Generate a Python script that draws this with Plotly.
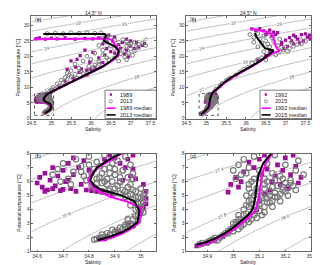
import numpy as np
import plotly.graph_objects as go

# ---------------- data ----------------
section_titles = ["14.5° N", "24.5° N"]
panel_labels = ["(a)", "(b)", "(c)", "(d)"]
legend_a = ["1989", "2013", "1989 median", "2013 median"]
legend_b = ["1992", "2015", "1992 median", "2015 median"]

xr_top = [34.5, 37.65]
yr_top = [0, 33]
xr_c = [34.578, 35.06]
xr_d = [34.82, 35.3]
yr_bot = [1, 8]
xt_top = [34.5, 35, 35.5, 36, 36.5, 37, 37.5]
xt_top_txt = ["34.5", "35", "35.5", "36", "36.5", "37", "37.5"]
xt_c = [34.6, 34.7, 34.8, 34.9, 35.0]
xt_c_txt = ["34.6", "34.7", "34.8", "34.9", "35"]
xt_d = [34.9, 35.0, 35.1, 35.2, 35.3]
xt_d_txt = ["34.9", "35", "35.1", "35.2", "35.3"]
yt_top = [0, 5, 10, 15, 20, 25, 30]
yt_bot = [1, 2, 3, 4, 5, 6, 7, 8]

# 14.5 N medians (salinity, potential temperature)
med_1989 = [(34.55, 25.5), (35.0, 25.55), (35.5, 25.6), (36.0, 25.65), (36.4, 25.7), (36.52, 25.3),
            (36.58, 24.3), (36.66, 22.9), (36.72, 21.5), (36.68, 20.0), (36.52, 18.4), (36.32, 16.8),
            (36.07, 15.2), (35.82, 13.6), (35.57, 12.0), (35.32, 10.6), (35.12, 9.3), (34.97, 8.2),
            (34.925, 8.0), (34.88, 7.5), (34.835, 7.0), (34.81, 6.6), (34.796, 6.14), (34.81, 5.7),
            (34.84, 5.3), (34.881, 4.91), (34.95, 4.55), (35.0, 4.1), (35.0, 3.5), (34.99, 3.0),
            (34.96, 2.6), (34.93, 2.3), (34.89, 2.0), (34.84, 1.75)]
med_2013 = [(34.8, 27.2), (35.2, 27.25), (35.6, 27.2), (36.0, 27.25), (36.35, 27.2), (36.38, 26.6),
            (36.32, 25.0), (36.46, 24.1), (36.6, 23.2), (36.7, 21.8), (36.66, 20.2), (36.5, 18.5),
            (36.3, 16.8), (36.05, 15.2), (35.8, 13.6), (35.55, 12.0), (35.3, 10.6), (35.1, 9.3),
            (34.95, 8.2), (34.919, 8.0), (34.87, 7.5), (34.83, 7.0), (34.813, 6.5), (34.805, 6.1),
            (34.82, 5.7), (34.85, 5.4), (34.92, 5.05), (34.975, 4.6), (34.995, 3.9), (34.987, 3.1),
            (34.96, 2.7), (34.93, 2.4), (34.88, 2.05), (34.834, 1.8)]

# 14.5 N observations
pts_1989_up = [(34.62, 25.7), (34.7, 25.9), (34.85, 25.5), (35.0, 25.8), (35.15, 25.6), (35.35, 25.9),
               (35.6, 25.5), (35.85, 25.8), (36.05, 25.6), (36.2, 25.9), (36.3, 24.0), (36.4, 22.5),
               (36.5, 21.5), (36.35, 20.5), (36.55, 25.0), (36.7, 23.8), (36.8, 24.5), (36.9, 25.5),
               (37.0, 25.0), (37.15, 24.5), (37.3, 23.5), (37.0, 23.3), (36.9, 22.0), (36.85, 20.8),
               (36.95, 19.8), (37.1, 22.5), (36.6, 26.2), (36.45, 26.8), (37.35, 24.2), (37.2, 23.0),
               (36.75, 22.6), (36.6, 21.0), (35.85, 22.0), (35.73, 20.2), (35.97, 18.1), (35.76, 16.0),
               (35.61, 16.5), (35.89, 15.4), (36.1, 16.5), (35.5, 18.5), (36.2, 19.5), (35.4, 15.8),
               (36.05, 21.3), (35.65, 19.0), (35.2, 10.0), (35.35, 12.0), (35.55, 13.0), (35.05, 9.0),
               (35.7, 14.8), (36.0, 15.8), (36.3, 18.0), (35.9, 14.0)]
pts_1989_deep = [(34.6, 5.9), (34.61, 6.3), (34.62, 5.6), (34.63, 6.6), (34.64, 5.4), (34.65, 6.1),
                 (34.66, 7.0), (34.67, 5.7), (34.68, 6.4), (34.69, 5.35), (34.7, 6.8), (34.71, 6.0),
                 (34.72, 7.3), (34.73, 5.5), (34.74, 6.5), (34.75, 5.3), (34.76, 7.0), (34.77, 5.8),
                 (34.78, 7.5), (34.79, 5.4), (34.8, 6.8), (34.81, 5.35), (34.83, 5.3), (34.85, 5.25),
                 (34.87, 5.2), (34.89, 5.1), (34.7, 5.45), (34.66, 5.5), (34.72, 6.1), (34.74, 7.7),
                 (34.63, 5.3), (34.86, 7.6), (34.88, 7.9), (34.9, 7.7), (34.92, 7.3), (34.94, 7.0),
                 (34.95, 7.6), (34.97, 6.9), (34.96, 6.4), (34.93, 6.1), (34.98, 6.2), (34.97, 7.9),
                 (35.01, 5.8), (35.02, 5.3), (35.02, 4.8), (35.02, 4.4), (35.01, 4.1), (35.0, 3.7),
                 (34.95, 2.9), (34.91, 2.4), (34.87, 2.1), (34.84, 1.95), (34.86, 1.9)]
pts_2013_up = [(34.9, 27.3), (35.1, 27.5), (35.3, 27.3), (35.5, 27.6), (35.7, 27.4), (35.9, 27.6),
               (36.1, 27.4), (36.25, 27.6), (36.4, 26.5), (36.3, 26.0), (36.4, 25.5), (36.5, 26.0),
               (36.6, 25.2), (36.7, 24.5), (36.8, 25.4), (36.9, 24.8), (37.0, 24.0), (37.1, 24.6),
               (37.2, 23.8), (37.3, 24.2), (37.38, 23.5), (36.9, 23.3), (37.0, 22.5), (37.1, 21.8),
               (36.95, 21.0), (37.05, 20.3), (36.85, 19.8), (36.75, 20.8), (36.6, 22.5), (36.5, 23.3),
               (36.4, 24.5), (36.8, 22.2), (37.2, 22.8), (36.9, 18.9), (36.7, 18.5), (36.6, 19.5),
               (36.95, 23.8), (37.15, 23.2), (35.6, 17.5), (35.8, 18.5), (35.9, 20.0), (36.0, 19.0),
               (36.1, 21.0), (36.2, 18.2), (36.3, 20.5), (36.4, 19.5), (36.3, 22.0), (36.2, 23.5),
               (35.95, 16.8), (36.1, 17.2), (35.7, 16.2), (35.5, 15.4), (35.75, 15.0), (35.4, 14.5),
               (35.0, 8.8), (35.1, 9.5), (35.05, 10.0), (35.2, 10.5), (35.15, 11.2), (35.3, 11.5),
               (35.25, 12.3), (35.4, 12.5), (35.35, 13.2), (35.5, 13.5), (35.6, 14.2), (35.45, 14.0),
               (35.0, 9.2), (34.95, 8.5), (35.65, 13.0), (35.8, 14.5), (35.9, 15.6), (36.05, 16.2),
               (36.2, 17.5), (36.45, 18.8)]
pts_2013_deep = [(34.66, 6.5), (34.68, 6.9), (34.7, 7.3), (34.72, 6.2), (34.74, 6.7), (34.75, 7.6),
                 (34.77, 7.1), (34.78, 6.4), (34.8, 7.8), (34.82, 6.9), (34.83, 7.4), (34.85, 6.6),
                 (34.86, 7.9), (34.87, 6.2), (34.88, 7.0), (34.9, 6.5), (34.91, 7.5), (34.93, 6.8),
                 (34.94, 7.8), (34.95, 6.3), (34.96, 7.2), (34.69, 6.0), (34.73, 5.8), (34.85, 5.9),
                 (34.92, 6.0), (34.97, 6.6), (34.82, 5.6), (34.85, 5.3), (34.87, 5.8), (34.88, 5.5),
                 (34.9, 5.2), (34.91, 5.7), (34.93, 5.4), (34.94, 4.9), (34.95, 5.6), (34.96, 5.1),
                 (34.97, 4.7), (34.98, 5.3), (34.99, 4.9), (35.0, 5.5), (35.0, 4.5), (35.01, 5.0),
                 (34.92, 5.95), (34.89, 6.0), (34.96, 4.3), (34.98, 4.0), (34.99, 3.6), (35.0, 4.2),
                 (35.01, 3.8), (34.97, 3.3), (34.95, 3.0), (34.99, 3.2), (35.01, 4.6), (34.92, 2.7),
                 (34.9, 2.4), (34.88, 2.2), (34.86, 2.05), (34.85, 2.2), (34.89, 2.55), (34.93, 2.6),
                 (34.94, 2.9), (34.83, 1.9), (34.82, 1.85), (34.84, 1.95),
                 (34.8, 7.2), (34.81, 6.6), (34.84, 7.1), (34.86, 6.9), (34.88, 6.6), (34.89, 7.3),
                 (34.9, 6.9), (34.92, 6.3), (34.84, 6.3), (34.86, 6.0), (34.83, 5.85), (34.9, 5.5),
                 (34.92, 5.15), (34.94, 5.3), (34.95, 5.0), (34.97, 5.4), (34.98, 4.85), (34.99, 4.4),
                 (35.0, 4.8), (35.0, 3.9), (34.98, 3.5), (34.96, 3.0), (34.94, 2.75), (34.91, 2.5),
                 (34.87, 2.3), (34.9, 2.25), (34.85, 2.0), (34.97, 2.85), (34.95, 3.3), (34.99, 4.1),
                 (35.015, 5.2), (34.81, 5.75), (34.875, 5.35), (34.96, 5.8), (34.97, 6.2), (34.77, 6.7),
                 (34.79, 6.1), (34.83, 6.2)]

# 24.5 N medians
med_1992 = [(36.1, 28.9), (36.3, 28.4), (36.5, 28.0), (36.65, 27.2), (36.7, 26.0), (36.72, 24.5),
            (36.75, 23.2), (36.8, 22.3), (36.85, 21.6), (36.7, 21.2), (36.55, 20.0), (36.4, 18.6),
            (36.2, 17.1), (35.95, 15.3), (35.7, 13.5), (35.48, 11.6), (35.32, 10.0), (35.21, 8.8),
            (35.15, 8.0), (35.125, 7.3), (35.11, 6.5), (35.103, 5.6), (35.097, 4.7), (35.088, 4.1),
            (35.075, 3.7), (35.05, 3.3), (35.012, 2.72), (34.975, 2.25), (34.94, 1.9), (34.905, 1.6),
            (34.875, 1.45), (34.86, 1.38)]
med_2015 = [(36.22, 27.5), (36.27, 26.2), (36.35, 24.8), (36.42, 23.5), (36.48, 22.6), (36.6, 22.2),
            (36.7, 21.9), (36.62, 21.0), (36.5, 19.8), (36.35, 18.4), (36.15, 16.9), (35.9, 15.2),
            (35.65, 13.4), (35.45, 11.6), (35.3, 10.0), (35.2, 8.8), (35.145, 8.0), (35.115, 7.31),
            (35.097, 6.51), (35.089, 5.6), (35.083, 4.68), (35.074, 4.0), (35.059, 3.65),
            (35.038, 3.31), (35.002, 2.74), (34.966, 2.28), (34.931, 1.94), (34.895, 1.66),
            (34.871, 1.52), (34.859, 1.48)]

# 24.5 N observations
pts_1992_up = [(36.15, 28.8), (36.25, 28.3), (36.35, 28.9), (36.45, 28.2), (36.55, 27.5), (36.6, 28.4),
               (36.7, 27.8), (36.75, 27.0), (36.8, 27.6), (36.5, 27.0), (36.65, 26.5), (36.9, 24.5),
               (37.0, 25.2), (37.1, 26.0), (37.2, 26.8), (37.3, 25.5), (37.4, 27.0), (37.5, 27.2),
               (37.55, 26.2), (37.62, 25.6), (37.45, 25.0), (37.35, 24.3), (37.2, 24.0), (37.05, 23.2),
               (36.95, 22.5), (37.6, 26.8), (37.15, 25.0), (37.25, 26.3), (36.9, 23.8), (36.6, 21.5),
               (36.5, 20.3), (36.3, 18.7)]
pts_1992_deep = [(34.98, 5.25), (34.99, 5.8), (35.01, 6.3), (35.02, 5.6), (35.03, 6.0), (35.04, 6.7),
                 (35.06, 7.4), (35.08, 7.0), (35.1, 7.6), (35.12, 7.9), (35.11, 6.5), (35.13, 6.9),
                 (35.15, 6.0), (35.17, 7.2), (35.19, 6.8), (35.2, 7.7), (35.22, 6.5), (35.24, 7.1),
                 (35.26, 6.3), (35.18, 5.8), (35.21, 5.5), (35.14, 5.4), (35.12, 5.1), (35.16, 6.4),
                 (35.23, 7.9), (35.25, 5.9), (35.1, 4.6), (35.09, 4.0), (34.86, 1.4), (34.88, 1.5),
                 (34.9, 1.6), (34.93, 1.75), (34.96, 2.05)]
pts_2015_up = [(36.1, 27.0), (36.2, 26.0), (36.3, 27.3), (36.35, 25.5), (36.45, 26.5), (36.5, 25.0),
               (36.55, 24.0), (36.4, 24.2), (36.3, 23.0), (36.6, 23.0), (36.7, 24.8), (36.8, 23.5),
               (36.9, 22.8), (36.85, 21.5), (36.95, 22.0), (37.0, 23.0), (37.1, 22.5), (37.2, 23.2),
               (37.3, 23.8), (37.4, 24.0), (37.05, 21.6), (36.75, 20.5), (36.6, 20.8), (36.45, 21.5),
               (36.2, 24.5), (36.65, 26.0), (36.85, 25.5), (37.15, 24.5), (37.5, 24.8), (36.4, 19.5),
               (36.25, 18.0), (36.05, 16.5), (35.85, 15.0), (35.6, 13.0), (35.4, 11.3), (35.25, 9.5),
               (36.5, 18.8), (36.15, 17.8), (35.95, 15.8), (35.75, 14.0), (35.5, 12.2), (35.35, 10.5),
               (35.2, 8.6), (36.3, 19.0), (35.55, 12.5)]
pts_2015_deep = [(34.87, 1.5), (34.9, 1.65), (34.92, 1.85), (34.95, 2.0), (34.97, 2.3), (34.99, 2.6),
                 (35.01, 2.9), (35.03, 3.3), (35.05, 3.7), (35.06, 4.2), (35.07, 4.7), (35.05, 5.0),
                 (35.06, 5.5), (35.07, 6.0), (35.0, 2.7), (35.03, 2.8), (35.06, 3.1), (35.09, 3.4),
                 (35.12, 3.8), (35.15, 4.2), (35.18, 4.6), (35.21, 5.0), (35.24, 5.4), (35.08, 3.9),
                 (35.1, 4.4), (35.13, 4.8), (35.16, 5.2), (35.19, 5.6), (35.22, 5.9), (35.1, 5.3),
                 (35.12, 5.8), (35.08, 5.0), (35.14, 4.5), (35.04, 4.0), (35.02, 3.6), (34.98, 2.3),
                 (34.94, 1.8), (35.11, 3.6), (35.17, 4.9), (35.2, 5.3), (35.09, 4.7), (35.11, 5.0),
                 (35.06, 3.5), (35.03, 3.1), (35.0, 3.0), (35.0, 6.8), (35.02, 7.2), (35.04, 7.6),
                 (35.03, 6.5), (35.06, 7.0), (35.08, 7.8), (35.1, 6.8), (35.13, 7.3), (35.16, 7.9),
                 (35.2, 7.2), (35.24, 6.8), (35.27, 6.5), (35.18, 6.4), (35.22, 6.1), (35.15, 6.6),
                 (35.12, 6.2), (35.25, 7.5), (35.01, 6.2), (35.05, 6.6),
                 (34.88, 1.6), (34.91, 1.75), (34.93, 1.95), (34.96, 2.15), (34.98, 2.45), (35.0, 2.45),
                 (35.02, 2.6), (35.04, 2.95), (35.05, 3.25), (35.07, 3.3), (35.08, 3.6), (35.1, 3.9),
                 (35.07, 4.4), (35.09, 4.2), (35.12, 4.2), (35.13, 4.5), (35.15, 4.6), (35.16, 4.9),
                 (35.14, 5.0), (35.18, 5.1), (35.19, 5.4), (35.21, 5.6), (35.23, 5.7), (35.06, 4.6),
                 (35.07, 5.2), (35.12, 5.5), (35.15, 5.6), (35.17, 5.7), (35.2, 5.9), (35.04, 3.6),
                 (35.02, 3.3), (35.01, 3.1), (35.05, 4.3), (35.11, 4.8), (35.14, 5.3), (35.09, 5.5),
                 (35.13, 6.0), (35.16, 6.1), (35.19, 6.2), (35.06, 5.8), (35.08, 6.2), (35.1, 6.3)]

# ---------------- styling ----------------
PURPLE = "#9b109b"
GRAY = "#7a7a7a"
MAGENTA = "#ff00ff"
FONT = "Liberation Sans"
W, H = 320, 265

# plot-area pixel boxes (left, right, top, bottom)
boxes = {
    "a": (19, 148, 5, 110),
    "b": (179, 308, 5, 110),
    "c": (19, 148, 146, 246),
    "d": (179, 308, 146, 246),
}


def px(x):
    return x / W


def py(y):
    return 1 - y / H


def sigma0(S, T):
    rw = (999.842594 + 6.793952e-2 * T - 9.095290e-3 * T ** 2 + 1.001685e-4 * T ** 3
          - 1.120083e-6 * T ** 4 + 6.536332e-9 * T ** 5)
    A = 0.824493 - 4.0899e-3 * T + 7.6438e-5 * T ** 2 - 8.2467e-7 * T ** 3 + 5.3875e-9 * T ** 4
    B = -5.72466e-3 + 1.0227e-4 * T - 1.6546e-6 * T ** 2
    return rw + A * S + B * S ** 1.5 + 4.8314e-4 * S ** 2 - 1000.0


fig = go.Figure()

axes = {"a": ("x", "y"), "b": ("x2", "y2"), "c": ("x3", "y3"), "d": ("x4", "y4")}
ranges = {"a": (xr_top, yr_top), "b": (xr_top, yr_top), "c": (xr_c, yr_bot), "d": (xr_d, yr_bot)}


def add_contours(key, start, end, size, fmt):
    xr, yr = ranges[key]
    s = np.linspace(xr[0], xr[1], 160)
    t = np.linspace(yr[0], yr[1], 160)
    S, T = np.meshgrid(s, t)
    Z = sigma0(S, T)
    xa, ya = axes[key]
    fig.add_trace(go.Contour(
        x=s, y=t, z=Z, xaxis=xa, yaxis=ya, showscale=False, hoverinfo="skip",
        contours=dict(start=start, end=end, size=size, coloring="lines", showlabels=True,
                      labelfont=dict(size=4.5, color="#444", family=FONT), labelformat=fmt),
        colorscale=[[0, "#a8a8a8"], [1, "#a8a8a8"]], line=dict(width=0.8, smoothing=1.0)))


add_contours("a", 21, 30, 1, ".0f")
add_contours("b", 21, 30, 1, ".0f")
add_contours("c", 27.0, 28.2, 0.2, ".1f")
add_contours("d", 27.0, 28.2, 0.2, ".1f")


def xs(p):
    return [v[0] for v in p]


def ys(p):
    return [v[1] for v in p]


def add_section(key, purple_pts, gray_pts, med_m, med_k, msize, lw):
    xa, ya = axes[key]
    fig.add_trace(go.Scatter(x=xs(purple_pts), y=ys(purple_pts), mode="markers", xaxis=xa, yaxis=ya,
                             marker=dict(symbol="square", size=msize * 0.85, color=PURPLE,
                                         line=dict(width=0)), hoverinfo="skip"))
    fig.add_trace(go.Scatter(x=xs(gray_pts), y=ys(gray_pts), mode="markers", xaxis=xa, yaxis=ya,
                             marker=dict(symbol="circle-open", size=msize, color=GRAY,
                                         line=dict(width=lw)), hoverinfo="skip"))
    fig.add_trace(go.Scatter(x=xs(med_m), y=ys(med_m), mode="lines", xaxis=xa, yaxis=ya,
                             line=dict(color=MAGENTA, width=2), hoverinfo="skip"))
    fig.add_trace(go.Scatter(x=xs(med_k), y=ys(med_k), mode="lines", xaxis=xa, yaxis=ya,
                             line=dict(color="black", width=2), hoverinfo="skip"))


p1989 = pts_1989_up + pts_1989_deep
p2013 = pts_2013_up + pts_2013_deep
p1992 = pts_1992_up + pts_1992_deep
p2015 = pts_2015_up + pts_2015_deep
add_section("a", p1989, p2013, med_1989, med_2013, 3.8, 1.0)
add_section("c", p1989, p2013, med_1989, med_2013, 5.5, 1.2)
add_section("b", p1992, p2015, med_1992, med_2015, 3.8, 1.0)
add_section("d", p1992, p2015, med_1992, med_2015, 5.5, 1.2)

# ---------------- axes ----------------
axis_common = dict(showgrid=False, zeroline=False, showline=True, mirror="ticks", linecolor="#666",
                   linewidth=0.8, ticks="inside", ticklen=2, tickwidth=0.6, tickcolor="#666",
                   tickfont=dict(size=5, color="#333", family=FONT))
layout_axes = {}
names = {"a": ("xaxis", "yaxis"), "b": ("xaxis2", "yaxis2"), "c": ("xaxis3", "yaxis3"),
         "d": ("xaxis4", "yaxis4")}
xt = {"a": (xt_top, xt_top_txt), "b": (xt_top, xt_top_txt), "c": (xt_c, xt_c_txt), "d": (xt_d, xt_d_txt)}
yt = {"a": yt_top, "b": yt_top, "c": yt_bot, "d": yt_bot}
for k, (l, r, t, b) in boxes.items():
    xn, yn = names[k]
    xa, ya = axes[k]
    xr, yr = ranges[k]
    layout_axes[xn] = dict(axis_common, domain=[px(l), px(r)], range=xr, anchor=ya,
                           tickmode="array", tickvals=xt[k][0], ticktext=xt[k][1])
    layout_axes[yn] = dict(axis_common, domain=[py(b), py(t)], range=yr, anchor=xa,
                           tickmode="array", tickvals=yt[k], ticktext=[str(v) for v in yt[k]])

fig.update_layout(width=W, height=H, margin=dict(l=0, r=0, t=0, b=0), showlegend=False,
                  paper_bgcolor="white", plot_bgcolor="white", hovermode=False, **layout_axes)

# dashed boxes marking the zoomed regions
fig.add_shape(type="rect", xref="x", yref="y", x0=xr_c[0], x1=xr_c[1], y0=yr_bot[0], y1=yr_bot[1],
              line=dict(color="#444", width=0.9, dash="dot"))
fig.add_shape(type="rect", xref="x2", yref="y2", x0=xr_d[0], x1=xr_d[1], y0=yr_bot[0], y1=yr_bot[1],
              line=dict(color="#444", width=0.9, dash="dot"))

# ---------------- text ----------------
ann = []
f5 = dict(size=5, color="#222", family=FONT)
for i, k in enumerate(["a", "b"]):
    l, r, t, b = boxes[k]
    ann.append(dict(text=section_titles[i], x=px((l + r) / 2), y=py(2.5), xref="paper", yref="paper",
                    showarrow=False, xanchor="center", yanchor="middle", font=f5))
for i, k in enumerate(["a", "b", "c", "d"]):
    l, r, t, b = boxes[k]
    ann.append(dict(text=panel_labels[i], x=px(l + 1.5), y=py(t + 2.8), xref="paper", yref="paper",
                    showarrow=False, xanchor="left", yanchor="middle", font=f5))
    dy = 11 if k in ("a", "b") else 11
    ann.append(dict(text="Salinity", x=px((l + r) / 2), y=py(b + dy), xref="paper", yref="paper",
                    showarrow=False, xanchor="center", yanchor="middle", font=f5))
    ann.append(dict(text="Potential temperature [°C]", x=px(l - 13.5), y=py((t + b) / 2),
                    xref="paper", yref="paper", showarrow=False, textangle=-90,
                    xanchor="center", yanchor="middle", font=f5))

# ---------------- manual legends ----------------
shapes = []
for k, labels in (("a", legend_a), ("b", legend_b)):
    l, r, t, b = boxes[k]
    x0 = r - 53
    shapes.append(dict(type="rect", xref="paper", yref="paper", x0=px(x0), x1=px(r), y0=py(b),
                       y1=py(b - 29), line=dict(color="#444", width=0.7), fillcolor="white"))
    rows = [b - 24.5, b - 17.5, b - 10.5, b - 3.7]
    cx = x0 + 6
    shapes.append(dict(type="rect", xref="paper", yref="paper", x0=px(cx - 1.2), x1=px(cx + 1.2),
                       y0=py(rows[0] + 1.2), y1=py(rows[0] - 1.2), line=dict(width=0),
                       fillcolor=PURPLE))
    shapes.append(dict(type="circle", xref="paper", yref="paper", x0=px(cx - 1.6), x1=px(cx + 1.6),
                       y0=py(rows[1] + 1.6), y1=py(rows[1] - 1.6), line=dict(color=GRAY, width=0.8)))
    shapes.append(dict(type="line", xref="paper", yref="paper", x0=px(x0 + 1.5), x1=px(x0 + 11),
                       y0=py(rows[2]), y1=py(rows[2]), line=dict(color=MAGENTA, width=1.6)))
    shapes.append(dict(type="line", xref="paper", yref="paper", x0=px(x0 + 1.5), x1=px(x0 + 11),
                       y0=py(rows[3]), y1=py(rows[3]), line=dict(color="black", width=1.6)))
    for lab, ry in zip(labels, rows):
        ann.append(dict(text=lab, x=px(x0 + 13.5), y=py(ry), xref="paper", yref="paper",
                        showarrow=False, xanchor="left", yanchor="middle",
                        font=dict(size=5.5, color="#222", family=FONT)))

fig.update_layout(annotations=ann)
for s in shapes:
    fig.add_shape(**s)

fig.write_html("out.html")
